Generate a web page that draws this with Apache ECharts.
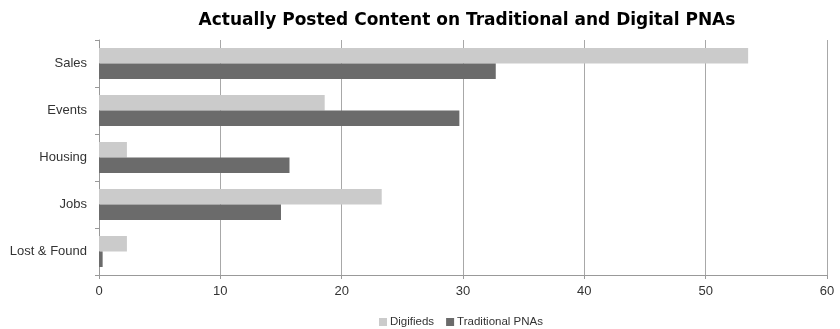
<!DOCTYPE html>
<html>
<head>
<meta charset="utf-8">
<script src="https://cdn.jsdelivr.net/npm/echarts@6/dist/echarts.min.js"></script>
<style>
    html, body { margin: 0; padding: 0; background: #fff; }
    #chart { width: 840px; height: 329px; }
</style>
</head>
<body>
<div id="chart"></div>
<script>
// categories, top to bottom
var categories = ['Sales', 'Events', 'Housing', 'Jobs', 'Lost & Found']
var digifieds = [53.5, 18.6, 2.3, 23.3, 2.3]
var traditional = [32.7, 29.7, 15.7, 15.0, 0.3]
var xTicks = [0, 10, 20, 30, 40, 50, 60]

var chart = echarts.init(document.getElementById('chart'))
var font = 'Helvetica, "Liberation Sans", Arial, sans-serif'

var options = {
    animation: false,
    color: ['#cbcbcb', '#6b6b6b'],
    textStyle: { fontFamily: font },
    title: {
        text: 'Actually Posted Content on Traditional and Digital PNAs',
        left: 462,
        textAlign: 'center',
        top: 7,
        textStyle: {
            fontFamily: '"DejaVu Sans", sans-serif',
            fontSize: 17,
            fontWeight: 'bold',
            color: '#000',
        },
    },
    legend: {
        top: 311,
        left: 374,
        icon: 'rect',
        itemWidth: 8,
        itemHeight: 8,
        itemGap: 12,
        textStyle: { color: '#333', fontSize: 11.5, fontFamily: font, padding: [0, 0, 0, -2] },
        data: ['Digifieds', 'Traditional PNAs'],
    },
    grid: {
        left: 99,
        right: 13,
        top: 40,
        bottom: 54,
        containLabel: false,
    },
    xAxis: {
        type: 'value',
        min: xTicks[0],
        max: xTicks[xTicks.length - 1],
        interval: 10,
        splitLine: {
            show: true,
            lineStyle: { color: '#a8a8a8', width: 1 },
        },
        axisLine: {
            show: true,
            lineStyle: { color: '#999' },
        },
        axisTick: {
            show: true,
            length: 4,
            lineStyle: { color: '#999' },
        },
        axisLabel: {
            color: '#333',
            fontSize: 13,
            margin: 10,
            fontFamily: font,
        },
    },
    yAxis: {
        type: 'category',
        inverse: true,
        data: categories,
        axisLine: {
            show: true,
            lineStyle: { color: '#999' },
        },
        axisTick: {
            show: true,
            length: 4,
            lineStyle: { color: '#999' },
        },
        axisLabel: {
            color: '#333',
            fontSize: 13,
            margin: 12,
            fontFamily: font,
        },
        splitLine: { show: false },
    },
    series: [
        {
            name: 'Digifieds',
            type: 'bar',
            data: digifieds,
            barGap: '0%',
            barCategoryGap: '34%',
        },
        {
            name: 'Traditional PNAs',
            type: 'bar',
            data: traditional,
            barGap: '0%',
            barCategoryGap: '34%',
        },
    ],
}

chart.setOption(options)
</script>
</body>
</html>
